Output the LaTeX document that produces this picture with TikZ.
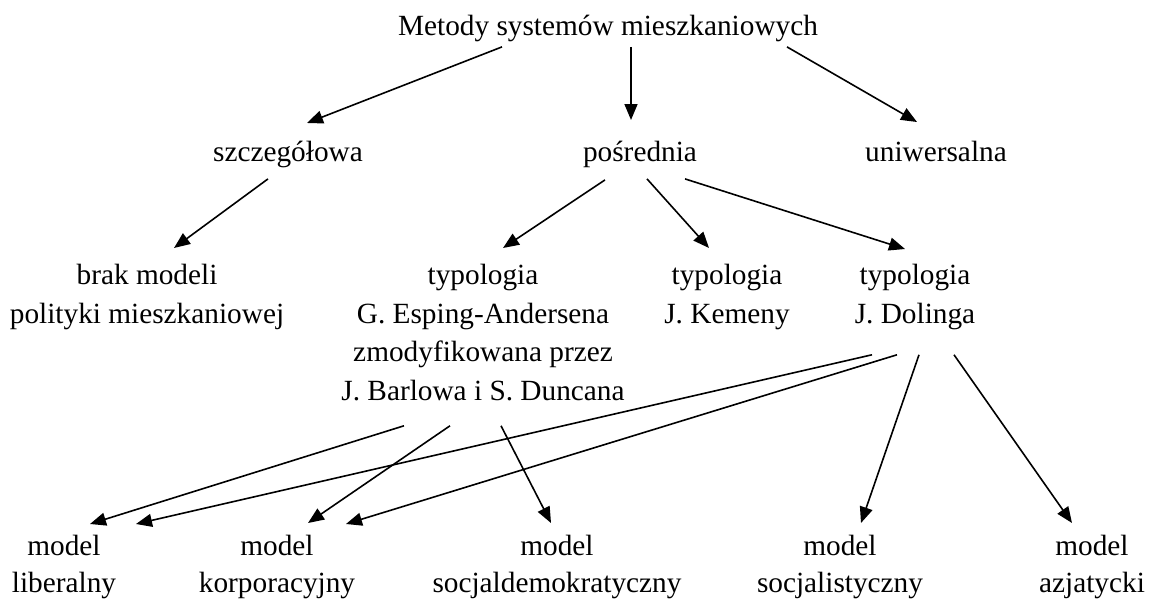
\documentclass[tikz,border=0pt]{standalone}
\usepackage{fontspec}
\setmainfont{Liberation Serif}
\usetikzlibrary{arrows.meta,calc}

\begin{document}
\begin{tikzpicture}[
  x=1pt, y=-1pt,
  box/.style={align=center, inner sep=0pt, anchor=north, font=\fontsize{29.3}{38.5}\selectfont,
    execute at begin node=\strut, execute at end node=\strut},
  leaf/.style={box, font=\fontsize{29.3}{36.5}\selectfont},
  arrow/.style={-{Triangle[length=16pt,width=13pt]}, line width=1.6pt},
]
  \fill[white] (0,0) rectangle (1149,605);

  % Root and methods
  \node[box] (root) at (608,8) {Metody systemów mieszkaniowych};
  \node[box] (szcz) at (288,134) {szczegółowa};
  \node[box] (posr) at (640,134) {pośrednia};
  \node[box] (uniw) at (936,134) {uniwersalna};

  % Typologies
  \node[box] (brak) at (147,264) {brak modeli\\polityki mieszkaniowej};
  \node[box] (esping) at (483,264) {typologia\\G. Esping-Andersena\\zmodyfikowana przez\\J. Barlowa i S. Duncana};
  \node[box] (kemeny) at (727,264) {typologia\\J. Kemeny};
  \node[box] (doling) at (915,264) {typologia\\J. Dolinga};

  % Models
  \node[leaf] (lib) at (64,535) {model\\liberalny};
  \node[leaf] (korp) at (277,535) {model\\korporacyjny};
  \node[leaf] (socdem) at (557,535) {model\\socjaldemokratyczny};
  \node[leaf] (socj) at (840,535) {model\\socjalistyczny};
  \node[leaf] (azj) at (1092,535) {model\\azjatycki};

  % Arrows
  \draw[arrow] ($(root.south)+(-106,0)$) -- ($(szcz.north)+(19,-11)$);
  \draw[arrow] ($(root.south)+(23,0)$) -- ($(posr.north)+(-9,-14)$);
  \draw[arrow] ($(root.south)+(179,0)$) -- ($(uniw.north)+(-19,-12)$);
  \draw[arrow] ($(szcz.south)+(-20,6)$) -- ($(brak.north)+(27,-16)$);
  \draw[arrow] ($(posr.south)+(-35,7)$) -- ($(esping.north)+(20,-16)$);
  \draw[arrow] ($(posr.south)+(7,6)$) -- ($(kemeny.north)+(-18,-16)$);
  \draw[arrow] ($(posr.south)+(45,6)$) -- ($(doling.north)+(-10,-15)$);
  \draw[arrow] ($(esping.south)+(-79,14)$) -- ($(lib.north)+(26,-11)$);
  \draw[arrow] ($(doling.south)+(-43,20)$) -- ($(lib.north)+(72,-11)$);
  \draw[arrow] ($(esping.south)+(-33,14)$) -- ($(korp.north)+(31,-12)$);
  \draw[arrow] ($(doling.south)+(-18,20)$) -- ($(korp.north)+(69,-11)$);
  \draw[arrow] ($(esping.south)+(18,14)$) -- ($(socdem.north)+(-6,-12)$);
  \draw[arrow] ($(doling.south)+(4,20)$) -- ($(socj.north)+(21,-12)$);
  \draw[arrow] ($(doling.south)+(39,20)$) -- ($(azj.north)+(-20,-12)$);
\end{tikzpicture}
\end{document}
